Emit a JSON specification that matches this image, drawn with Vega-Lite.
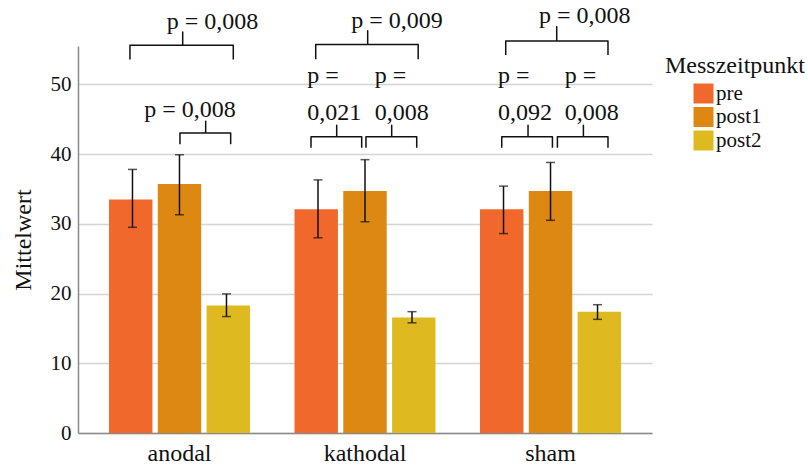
{
  "$schema": "https://vega.github.io/schema/vega-lite/v6.json",
  "autosize": {"type": "none"},
  "padding": {"left": 78, "top": 46, "right": 156, "bottom": 32},
  "width": 574,
  "height": 387,
  "background": "white",
  "config": {
    "font": "Liberation Serif",
    "view": {"stroke": null},
    "axis": {"labelFont": "Liberation Serif", "titleFont": "Liberation Serif", "labelColor": "#111", "titleColor": "#111"},
    "legend": {"labelFont": "Liberation Serif", "titleFont": "Liberation Serif"}
  },
  "datasets": {
    "bars": [
      {"Gruppe": "anodal", "Messzeitpunkt": "pre", "Mittelwert": 33.5, "lo": 29.5, "hi": 37.8},
      {"Gruppe": "anodal", "Messzeitpunkt": "post1", "Mittelwert": 35.7, "lo": 31.3, "hi": 39.9},
      {"Gruppe": "anodal", "Messzeitpunkt": "post2", "Mittelwert": 18.3, "lo": 16.7, "hi": 19.95},
      {"Gruppe": "kathodal", "Messzeitpunkt": "pre", "Mittelwert": 32.1, "lo": 28.0, "hi": 36.3},
      {"Gruppe": "kathodal", "Messzeitpunkt": "post1", "Mittelwert": 34.7, "lo": 30.3, "hi": 39.2},
      {"Gruppe": "kathodal", "Messzeitpunkt": "post2", "Mittelwert": 16.55, "lo": 15.8, "hi": 17.4},
      {"Gruppe": "sham", "Messzeitpunkt": "pre", "Mittelwert": 32.1, "lo": 28.6, "hi": 35.4},
      {"Gruppe": "sham", "Messzeitpunkt": "post1", "Mittelwert": 34.7, "lo": 30.5, "hi": 38.8},
      {"Gruppe": "sham", "Messzeitpunkt": "post2", "Mittelwert": 17.4, "lo": 16.3, "hi": 18.4}
    ],
    "brackets": [
      {"b": "A1", "Gruppe": "anodal", "o": 1, "u": -0.015, "v": 53.57},
      {"b": "A1", "Gruppe": "anodal", "o": 2, "u": -0.015, "v": 55.62},
      {"b": "A1", "Gruppe": "anodal", "o": 3, "u": 1.066, "v": 55.62},
      {"b": "A1", "Gruppe": "anodal", "o": 4, "u": 1.066, "v": 57.5},
      {"b": "A1", "Gruppe": "anodal", "o": 5, "u": 1.066, "v": 55.62},
      {"b": "A1", "Gruppe": "anodal", "o": 6, "u": 2.103, "v": 55.62},
      {"b": "A1", "Gruppe": "anodal", "o": 7, "u": 2.103, "v": 53.57},
      {"b": "A2", "Gruppe": "anodal", "o": 1, "u": 1.01, "v": 41.4},
      {"b": "A2", "Gruppe": "anodal", "o": 2, "u": 1.01, "v": 43.04},
      {"b": "A2", "Gruppe": "anodal", "o": 3, "u": 1.537, "v": 43.04},
      {"b": "A2", "Gruppe": "anodal", "o": 4, "u": 1.537, "v": 44.7},
      {"b": "A2", "Gruppe": "anodal", "o": 5, "u": 1.537, "v": 43.04},
      {"b": "A2", "Gruppe": "anodal", "o": 6, "u": 2.049, "v": 43.04},
      {"b": "A2", "Gruppe": "anodal", "o": 7, "u": 2.049, "v": 41.4},
      {"b": "K1", "Gruppe": "kathodal", "o": 1, "u": -0.01, "v": 53.6},
      {"b": "K1", "Gruppe": "kathodal", "o": 2, "u": -0.01, "v": 55.7},
      {"b": "K1", "Gruppe": "kathodal", "o": 3, "u": 1.055, "v": 55.7},
      {"b": "K1", "Gruppe": "kathodal", "o": 4, "u": 1.055, "v": 57.7},
      {"b": "K1", "Gruppe": "kathodal", "o": 5, "u": 1.055, "v": 55.7},
      {"b": "K1", "Gruppe": "kathodal", "o": 6, "u": 2.09, "v": 55.7},
      {"b": "K1", "Gruppe": "kathodal", "o": 7, "u": 2.09, "v": 53.6},
      {"b": "K2", "Gruppe": "kathodal", "o": 1, "u": -0.107, "v": 40.9},
      {"b": "K2", "Gruppe": "kathodal", "o": 2, "u": -0.107, "v": 42.47},
      {"b": "K2", "Gruppe": "kathodal", "o": 3, "u": 0.42, "v": 42.47},
      {"b": "K2", "Gruppe": "kathodal", "o": 4, "u": 0.42, "v": 44.15},
      {"b": "K2", "Gruppe": "kathodal", "o": 5, "u": 0.42, "v": 42.47},
      {"b": "K2", "Gruppe": "kathodal", "o": 6, "u": 0.932, "v": 42.47},
      {"b": "K2", "Gruppe": "kathodal", "o": 7, "u": 0.932, "v": 40.9},
      {"b": "K3", "Gruppe": "kathodal", "o": 1, "u": 1.02, "v": 40.9},
      {"b": "K3", "Gruppe": "kathodal", "o": 2, "u": 1.02, "v": 42.47},
      {"b": "K3", "Gruppe": "kathodal", "o": 3, "u": 1.547, "v": 42.47},
      {"b": "K3", "Gruppe": "kathodal", "o": 4, "u": 1.547, "v": 44.15},
      {"b": "K3", "Gruppe": "kathodal", "o": 5, "u": 1.547, "v": 42.47},
      {"b": "K3", "Gruppe": "kathodal", "o": 6, "u": 2.06, "v": 42.47},
      {"b": "K3", "Gruppe": "kathodal", "o": 7, "u": 2.06, "v": 40.9},
      {"b": "S1", "Gruppe": "sham", "o": 1, "u": 0.082, "v": 54.2},
      {"b": "S1", "Gruppe": "sham", "o": 2, "u": 0.082, "v": 56.2},
      {"b": "S1", "Gruppe": "sham", "o": 3, "u": 1.127, "v": 56.2},
      {"b": "S1", "Gruppe": "sham", "o": 4, "u": 1.127, "v": 58.25},
      {"b": "S1", "Gruppe": "sham", "o": 5, "u": 1.127, "v": 56.2},
      {"b": "S1", "Gruppe": "sham", "o": 6, "u": 2.178, "v": 56.2},
      {"b": "S1", "Gruppe": "sham", "o": 7, "u": 2.178, "v": 54.2},
      {"b": "S2", "Gruppe": "sham", "o": 1, "u": 0.0, "v": 40.9},
      {"b": "S2", "Gruppe": "sham", "o": 2, "u": 0.0, "v": 42.47},
      {"b": "S2", "Gruppe": "sham", "o": 3, "u": 0.539, "v": 42.47},
      {"b": "S2", "Gruppe": "sham", "o": 4, "u": 0.539, "v": 44.15},
      {"b": "S2", "Gruppe": "sham", "o": 5, "u": 0.539, "v": 42.47},
      {"b": "S2", "Gruppe": "sham", "o": 6, "u": 1.039, "v": 42.47},
      {"b": "S2", "Gruppe": "sham", "o": 7, "u": 1.039, "v": 40.9},
      {"b": "S3", "Gruppe": "sham", "o": 1, "u": 1.141, "v": 40.9},
      {"b": "S3", "Gruppe": "sham", "o": 2, "u": 1.141, "v": 42.47},
      {"b": "S3", "Gruppe": "sham", "o": 3, "u": 1.674, "v": 42.47},
      {"b": "S3", "Gruppe": "sham", "o": 4, "u": 1.674, "v": 44.15},
      {"b": "S3", "Gruppe": "sham", "o": 5, "u": 1.674, "v": 42.47},
      {"b": "S3", "Gruppe": "sham", "o": 6, "u": 2.178, "v": 42.47},
      {"b": "S3", "Gruppe": "sham", "o": 7, "u": 2.178, "v": 40.9}
    ],
    "labels": [
      {"Gruppe": "anodal", "u": 0.738, "v": 57.88, "t": ["p = 0,008"]},
      {"Gruppe": "anodal", "u": 0.279, "v": 45.34, "t": ["p = 0,008"]},
      {"Gruppe": "kathodal", "u": 0.717, "v": 58.02, "t": ["p = 0,009"]},
      {"Gruppe": "kathodal", "u": -0.185, "v": 50.13, "t": ["p =", "0,021"]},
      {"Gruppe": "kathodal", "u": 1.201, "v": 50.13, "t": ["p =", "0,008"]},
      {"Gruppe": "sham", "u": 0.764, "v": 58.82, "t": ["p = 0,008"]},
      {"Gruppe": "sham", "u": -0.076, "v": 50.13, "t": ["p =", "0,092"]},
      {"Gruppe": "sham", "u": 1.291, "v": 50.13, "t": ["p =", "0,008"]}
    ]
  },
  "encoding": {
    "x": {
      "field": "Gruppe", "type": "nominal", "sort": ["anodal", "kathodal", "sham"],
      "scale": {"paddingInner": 0.24, "paddingOuter": 0.167},
      "axis": {"title": null, "labelAngle": 0, "labelFontSize": 24, "labelPadding": 8, "ticks": false, "domainColor": "#8a8a8a", "domainWidth": 1.5, "grid": false}
    }
  },
  "layer": [
    {
      "data": {"name": "bars"},
      "mark": {"type": "bar"},
      "encoding": {
        "xOffset": {"field": "Messzeitpunkt", "type": "nominal", "sort": ["pre", "post1", "post2"], "scale": {"paddingInner": 0.11, "paddingOuter": 0}},
        "y": {
          "field": "Mittelwert", "type": "quantitative",
          "scale": {"domain": [0, 55.5], "nice": false, "zero": true},
          "axis": {"title": "Mittelwert", "titleFontSize": 24, "titleFontWeight": "normal", "titlePadding": 15, "labelFontSize": 21, "labelPadding": 7, "ticks": false, "values": [0, 10, 20, 30, 40, 50], "domainColor": "#8a8a8a", "domainWidth": 1.5, "gridColor": "#d4d4d4", "gridWidth": 1.5}
        },
        "color": {
          "field": "Messzeitpunkt", "type": "nominal", "sort": ["pre", "post1", "post2"],
          "scale": {"range": ["#F0682C", "#DC8812", "#DEBA20"]},
          "legend": {"orient": "none", "legendX": 587, "legendY": 8, "title": "Messzeitpunkt", "titleFontSize": 24, "titleFontWeight": "normal", "titleColor": "#111", "titlePadding": 5, "labelFontSize": 21, "labelColor": "#111", "labelOffset": 2, "symbolType": "square", "symbolSize": 400, "symbolStrokeWidth": 0, "symbolOpacity": 1, "symbolOffset": 28, "rowPadding": 1.5}
        }
      }
    },
    {
      "data": {"name": "bars"},
      "mark": {"type": "rule", "color": "#111", "strokeWidth": 1.5},
      "encoding": {
        "xOffset": {"field": "Messzeitpunkt", "type": "nominal", "sort": ["pre", "post1", "post2"]},
        "y": {"field": "lo", "type": "quantitative"},
        "y2": {"field": "hi"}
      }
    },
    {
      "data": {"name": "bars"},
      "mark": {"type": "tick", "color": "#111", "thickness": 1.5, "size": 9, "orient": "horizontal"},
      "encoding": {
        "xOffset": {"field": "Messzeitpunkt", "type": "nominal", "sort": ["pre", "post1", "post2"]},
        "y": {"field": "lo", "type": "quantitative"}
      }
    },
    {
      "data": {"name": "bars"},
      "mark": {"type": "tick", "color": "#111", "thickness": 1.5, "size": 9, "orient": "horizontal"},
      "encoding": {
        "xOffset": {"field": "Messzeitpunkt", "type": "nominal", "sort": ["pre", "post1", "post2"]},
        "y": {"field": "hi", "type": "quantitative"}
      }
    },
    {
      "layer": [
        {
          "data": {"name": "brackets"},
          "mark": {"type": "line", "color": "#111", "strokeWidth": 1.5, "strokeJoin": "round"},
          "encoding": {
            "xOffset": {"field": "u", "type": "quantitative", "scale": {"domain": [-0.445, 2.445], "nice": false, "zero": false}},
            "y": {"field": "v", "type": "quantitative"},
            "detail": {"field": "b"},
            "order": {"field": "o", "type": "quantitative"}
          }
        },
        {
          "data": {"name": "labels"},
          "mark": {"type": "text", "align": "left", "baseline": "alphabetic", "fontSize": 24, "lineHeight": 37, "color": "#111"},
          "encoding": {
            "xOffset": {"field": "u", "type": "quantitative", "scale": {"domain": [-0.445, 2.445], "nice": false, "zero": false}},
            "y": {"field": "v", "type": "quantitative"},
            "text": {"field": "t"}
          }
        }
      ]
    }
  ],
  "resolve": {"scale": {"xOffset": "independent"}}
}
